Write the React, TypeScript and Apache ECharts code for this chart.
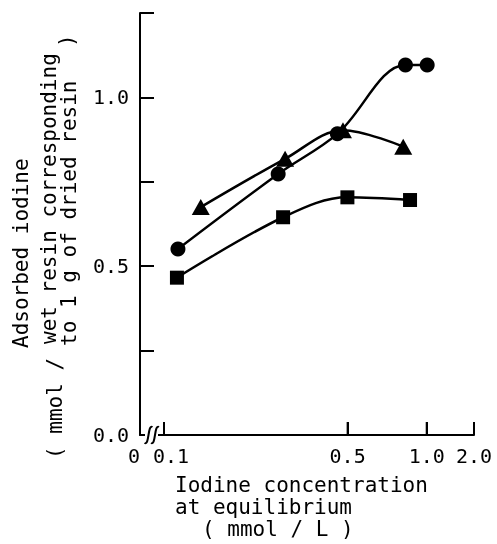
import React, { useEffect, useRef } from "react";
import * as echarts from "echarts";

// Iodine concentration at equilibrium (mmol / L) and adsorbed iodine values
const circleX = [0.113, 0.272, 0.457, 0.83, 1.01];
const circleY = [0.551, 0.773, 0.892, 1.096, 1.096];
const triangleX = [0.138, 0.289, 0.48, 0.814];
const triangleY = [0.675, 0.818, 0.903, 0.854];
const squareX = [0.112, 0.284, 0.499, 0.864];
const squareY = [0.466, 0.645, 0.704, 0.696];

const xTicks = [0.1, 0.5, 1.0, 2.0];
const xTickLabels = ["0.1", "0.5", "1.0", "2.0"];
const yTicks = [0, 0.25, 0.5, 0.75, 1.0, 1.25];
const yTickLabels = ["0.0", "", "0.5", "", "1.0", ""];

const FONT = "'DejaVu Sans Mono', monospace";

// Log axis up to 1.0, then a compressed stretch to 2.0 after it
const X_MIN = -1.0914;
const X_END = 0.18;
const Y_MAX = 1.25;
const toAxis = (x: number) => (x <= 1 ? Math.log10(x) : (x - 1) * X_END);

const pairs = (xs: number[], ys: number[]) => xs.map((x, i) => [toAxis(x), ys[i]]);

export default function App() {
  const ref = useRef<HTMLDivElement>(null);

  useEffect(() => {
    if (!ref.current) return;
    const chart = echarts.init(ref.current, null, { renderer: "svg" });

    const tickPos = xTicks.map(toAxis);
    const labelPos = [X_MIN, ...tickPos];

    const base = {
      type: "line" as const,
      smooth: 0.35,
      lineStyle: { color: "#000", width: 2.5 },
      itemStyle: { color: "#000" },
      showSymbol: true,
    };

    const yTitle = (text: string, x: number, y: number) => ({
      type: "text",
      x,
      y,
      rotation: Math.PI / 2,
      z: 100,
      style: { text, fill: "#000", fontSize: 21, fontFamily: FONT, align: "left", verticalAlign: "middle" },
    });
    const xTitle = (text: string, x: number, y: number) => ({
      type: "text",
      x,
      y,
      z: 100,
      style: { text, fill: "#000", fontSize: 21, fontFamily: FONT, align: "left", verticalAlign: "middle" },
    });
    const squiggle = (cx: number) => ({
      type: "bezierCurve",
      z: 101,
      shape: {
        x1: cx - 4, y1: 443,
        cpx1: cx + 1, cpy1: 446,
        cpx2: cx - 1, cpy2: 424,
        x2: cx + 4, y2: 427,
      },
      style: { stroke: "#000", lineWidth: 2, fill: null },
    });

    chart.setOption({
      animation: false,
      grid: { left: 140, right: 23, top: 13, bottom: 109 },
      xAxis: {
        type: "value",
        min: X_MIN,
        max: X_END,
        axisLine: { show: true, onZero: false, lineStyle: { color: "#000", width: 2 } },
        axisTick: {
          show: true,
          inside: true,
          length: 13,
          customValues: tickPos,
          lineStyle: { color: "#000", width: 2 },
        },
        axisLabel: {
          customValues: labelPos,
          margin: 11,
          color: "#000",
          fontSize: 20,
          fontFamily: FONT,
          formatter: (v: number) => {
            if (Math.abs(v - X_MIN) < 1e-6) return "{z|0}";
            const i = tickPos.findIndex((p) => Math.abs(p - v) < 1e-6);
            if (i === 0) return "{a|" + xTickLabels[0] + "}";
            return i >= 0 ? xTickLabels[i] : "";
          },
          rich: {
            z: { fontSize: 20, fontFamily: FONT, color: "#000", padding: [0, 12, 0, 0] },
            a: { fontSize: 20, fontFamily: FONT, color: "#000", padding: [0, 0, 0, 14] },
          },
        },
        splitLine: { show: false },
      },
      yAxis: {
        type: "value",
        min: 0,
        max: Y_MAX,
        interval: 0.25,
        axisLine: { show: true, onZero: false, lineStyle: { color: "#000", width: 2 } },
        axisTick: { show: true, inside: true, length: 14, lineStyle: { color: "#000", width: 2 } },
        axisLabel: {
          margin: 11,
          color: "#000",
          fontSize: 20,
          fontFamily: FONT,
          formatter: (v: number) => {
            const i = yTicks.findIndex((t) => Math.abs(t - v) < 1e-6);
            return i >= 0 ? yTickLabels[i] : "";
          },
        },
        splitLine: { show: false },
      },
      series: [
        // inward tick marks of the concentration axis
        {
          type: "custom",
          clip: false,
          data: tickPos.map((u) => [u, 0]),
          renderItem: (params: any, api: any) => {
            const p = api.coord([api.value(0), 0]);
            return {
              type: "line",
              shape: { x1: p[0], y1: p[1], x2: p[0], y2: p[1] - 13 },
              style: { stroke: "#000", lineWidth: 2 },
            };
          },
        },
        { ...base, data: pairs(squareX, squareY), symbol: "rect", symbolSize: 14 },
        { ...base, data: pairs(triangleX, triangleY), symbol: "triangle", symbolSize: [18, 16] },
        { ...base, data: pairs(circleX, circleY), symbol: "circle", symbolSize: 15 },
      ],
      graphic: [
        // axis break on the concentration axis
        { type: "rect", z: 100, shape: { x: 145, y: 430, width: 13, height: 10 }, style: { fill: "#fff" } },
        squiggle(148.5),
        squiggle(155),
        yTitle("Adsorbed iodine", 21, 348),
        yTitle("( mmol /", 55, 459),
        yTitle("wet resin corresponding", 49, 344),
        yTitle("to 1 g of dried resin", 69, 346),
        yTitle(")", 67, 47),
        xTitle("Iodine concentration", 175, 485),
        xTitle("at equilibrium", 175, 507),
        xTitle("( mmol / L )", 202, 529),
      ],
    });

    return () => chart.dispose();
  }, []);

  return (
    <div
      ref={ref}
      style={{ position: "fixed", left: 0, top: 0, width: 497, height: 544 }}
    />
  );
}
